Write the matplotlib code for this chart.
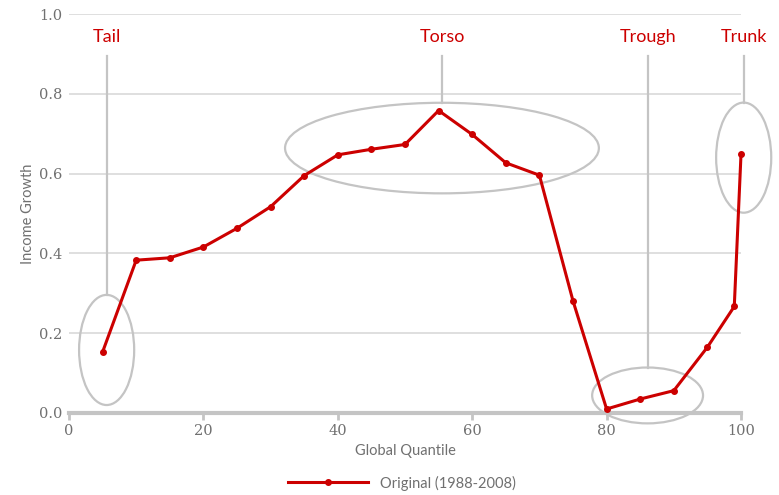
import matplotlib
matplotlib.use("Agg")
import matplotlib.pyplot as plt
from matplotlib.patches import Ellipse

# Income growth by global quantile (1988-2008)
quantile = [5, 10, 15, 20, 25, 30, 35, 40, 45, 50, 55, 60, 65, 70, 75, 80, 85, 90, 95, 99, 100]
growth = [0.153, 0.383, 0.389, 0.416, 0.463, 0.517, 0.595, 0.647, 0.661, 0.673, 0.758,
          0.698, 0.627, 0.596, 0.281, 0.010, 0.035, 0.056, 0.165, 0.267, 0.648]
series_name = "Original (1988-2008)"

# Highlighted regions: label, ellipse centre (x, y), ellipse width, height
region_labels = ["Tail", "Torso", "Trough", "Trunk"]
region_x = [5.6, 55.5, 86.1, 100.4]
region_y = [0.158, 0.664, 0.044, 0.640]
region_w = [8.2, 46.7, 16.5, 8.2]
region_h = [0.276, 0.227, 0.140, 0.276]

x_ticks = [0, 20, 40, 60, 80, 100]
y_ticks = [0.0, 0.2, 0.4, 0.6, 0.8, 1.0]

red = "#cc0000"
grey = "#c4c4c4"
text_grey = "#707070"

fig = plt.figure(figsize=(7.79, 4.95), dpi=100)
ax = fig.add_axes([69 / 779, 82 / 495, 672 / 779, 399 / 495])
ax.set_xlim(0, 100)
ax.set_ylim(0, 1.0)

for y in y_ticks[1:]:
    ax.axhline(y, color="#d9d9d9", lw=1.2, zorder=0)

ax.plot(quantile, growth, color=red, lw=2.2, marker="o", ms=4,
        label=series_name, zorder=3, clip_on=False)

label_y = 0.93
line_top = 0.895
for lab, cx, cy, w, h in zip(region_labels, region_x, region_y, region_w, region_h):
    ax.add_patch(Ellipse((cx, cy), w, h, fill=False, ec=grey, lw=1.6,
                         clip_on=False, zorder=2))
    ax.plot([cx, cx], [line_top, cy + h / 2], color=grey, lw=1.6,
            clip_on=False, zorder=2)
    ax.text(cx, label_y, lab, color=red, fontsize=13, family="Lato",
            ha="center", va="baseline")

for s in ["top", "right", "left"]:
    ax.spines[s].set_visible(False)
ax.spines["bottom"].set_color(grey)
ax.spines["bottom"].set_linewidth(3)
ax.spines["bottom"].set_zorder(1)

ax.set_xticks(x_ticks)
ax.set_yticks(y_ticks)
ax.set_yticklabels([f"{v:.1f}" for v in y_ticks])
ax.tick_params(axis="x", colors=grey, length=5, width=2, labelcolor=text_grey,
               labelsize=10.5, pad=3)
ax.tick_params(axis="y", length=0, labelcolor=text_grey, labelsize=10.5, pad=5)
for t in ax.get_xticklabels() + ax.get_yticklabels():
    t.set_family("DejaVu Serif")

ax.set_xlabel("Global Quantile", color=text_grey, fontsize=10.5, family="Lato", labelpad=4)
ax.set_ylabel("Income Growth", color=text_grey, fontsize=10.5, family="Lato")
ax.yaxis.set_label_coords(-34 / 672, 0.5)

leg = fig.legend(loc="center", bbox_to_anchor=(402 / 779, 1 - 483 / 495), frameon=False,
                 handlelength=5.5, prop={"family": "Lato", "size": 10.5})
for t in leg.get_texts():
    t.set_color(text_grey)

fig.savefig("out.png", dpi=100)
